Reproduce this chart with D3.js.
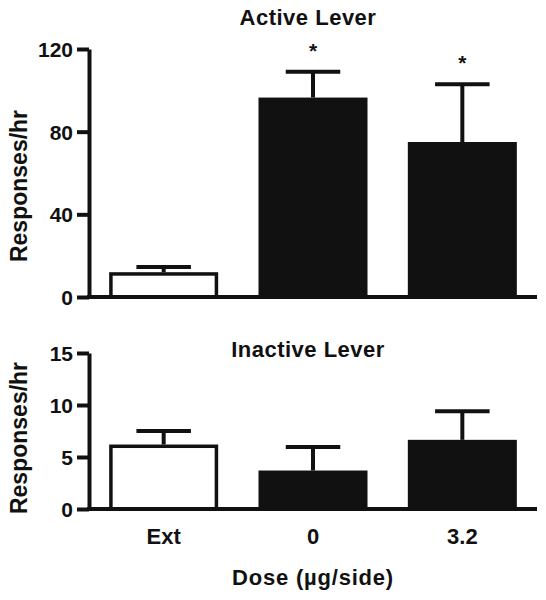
<!DOCTYPE html>
<html>
<head>
<meta charset="utf-8">
<script src="https://cdn.jsdelivr.net/npm/d3@7"></script>
<style>
  html, body { margin: 0; padding: 0; background: #fff; }
  svg { display: block; }
  text { font-family: "Liberation Sans", Arial, sans-serif; font-weight: bold; fill: #111; }
</style>
</head>
<body>
<script>
// ---- data ----
const categories = ["Ext", "0", "3.2"];
const activeMeans = [12, 96.5, 75];
const activeErr = [2.5, 12.5, 28];
const activeSig = [false, true, true];
const inactiveMeans = [6.2, 3.7, 6.65];
const inactiveErr = [1.3, 2.25, 2.75];
const activeTicks = [0, 40, 80, 120];
const inactiveTicks = [0, 5, 10, 15];
const barFills = ["#ffffff", "#111111", "#111111"];

const W = 546, H = 600;
const svg = d3.select("body").append("svg").attr("width", W).attr("height", H);

const x = d3.scaleBand().domain(categories).range([89, 537])
  .paddingInner(0.27).paddingOuter(0.135);

function panel(opts) {
  const y = d3.scaleLinear().domain(opts.domain).range(opts.range);
  const g = svg.append("g");

  const data = categories.map((c, i) => ({ c, v: opts.means[i], e: opts.errs[i], fill: barFills[i], sig: opts.sig ? opts.sig[i] : false }));
  const sw = 3.5;
  // error bars (upper only)
  g.selectAll(".err").data(data).join("line")
    .attr("x1", d => x(d.c) + x.bandwidth() / 2)
    .attr("x2", d => x(d.c) + x.bandwidth() / 2)
    .attr("y1", d => y(d.v))
    .attr("y2", d => y(d.v + d.e))
    .attr("stroke", "#111").attr("stroke-width", 4);
  g.selectAll(".cap").data(data).join("line")
    .attr("x1", d => x(d.c) + x.bandwidth() / 2 - x.bandwidth() / 4)
    .attr("x2", d => x(d.c) + x.bandwidth() / 2 + x.bandwidth() / 4)
    .attr("y1", d => y(d.v + d.e))
    .attr("y2", d => y(d.v + d.e))
    .attr("stroke", "#111").attr("stroke-width", 4);
  g.selectAll(".bar").data(data).join("rect")
    .attr("x", d => x(d.c) + sw / 2)
    .attr("width", x.bandwidth() - sw)
    .attr("y", d => y(d.v) + sw / 2)
    .attr("height", d => y(0) - y(d.v) - sw / 2)
    .attr("fill", d => d.fill)
    .attr("stroke", "#111").attr("stroke-width", sw);

  // significance asterisks
  g.selectAll(".sig").data(data.filter(d => d.sig)).join("text")
    .attr("x", d => x(d.c) + x.bandwidth() / 2)
    .attr("y", d => y(d.v + d.e) - 14)
    .attr("text-anchor", "middle")
    .attr("font-size", 21)
    .text("*");

  // y axis
  const ya = g.append("g").attr("transform", "translate(89,0)")
    .call(d3.axisLeft(y).tickValues(opts.ticks).tickSize(12).tickSizeOuter(0).tickPadding(4));
  ya.select(".domain").attr("stroke", "#111").attr("stroke-width", 4);
  ya.selectAll(".tick line").attr("stroke", "#111").attr("stroke-width", 4);
  ya.selectAll(".tick text").attr("font-size", 21).attr("fill", "#111")
    .attr("font-family", "'Liberation Sans', Arial, sans-serif").attr("font-weight", "bold")
    .attr("dy", "0.36em");

  // x baseline
  const xa = g.append("g").attr("transform", `translate(0,${y(0)})`)
    .call(d3.axisBottom(x).tickSize(0).tickSizeOuter(0).tickPadding(19));
  xa.select(".domain").attr("stroke", "#111").attr("stroke-width", 4)
    .attr("d", `M87,0H537`);
  xa.selectAll(".tick text").attr("font-size", 22).attr("fill", "#111")
    .attr("font-family", "'Liberation Sans', Arial, sans-serif").attr("font-weight", "bold")
    .style("display", opts.showX ? null : "none");

  // title
  g.append("text").attr("x", 308).attr("y", opts.titleY)
    .attr("text-anchor", "middle").attr("font-size", 22).attr("letter-spacing", 0.5).text(opts.title);

  // y label
  g.append("text")
    .attr("transform", `translate(27,${opts.ylabY}) rotate(-90)`)
    .attr("text-anchor", "middle").attr("font-size", 23).text("Responses/hr");
}

panel({ domain: [0, 120], range: [297, 49], means: activeMeans, errs: activeErr, sig: activeSig,
  ticks: activeTicks, title: "Active Lever", titleY: 25, ylabY: 186, showX: false });
panel({ domain: [0, 15], range: [509, 353], means: inactiveMeans, errs: inactiveErr,
  ticks: inactiveTicks, title: "Inactive Lever", titleY: 357, ylabY: 438, showX: true });

svg.append("text").attr("x", 313).attr("y", 585).attr("text-anchor", "middle")
  .attr("font-size", 22).attr("letter-spacing", 0.8).text("Dose (\u00b5g/side)");
</script>
</body>
</html>
